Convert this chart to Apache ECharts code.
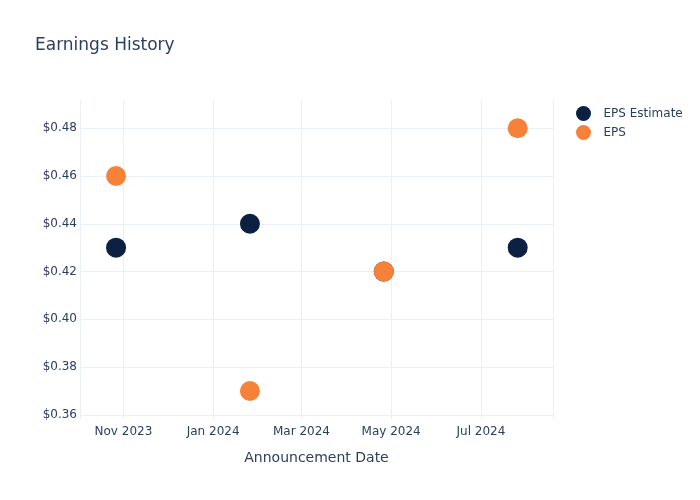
<!DOCTYPE html>
<html>
<head>
<meta charset="utf-8">
<script src="https://cdn.jsdelivr.net/npm/echarts@6/dist/echarts.min.js"></script>
<style>html,body{margin:0;padding:0;background:#fff}#c{width:700px;height:500px}</style>
</head>
<body>
<div id="c"></div>
<script>
const dates = ['2023-10-27', '2024-01-26', '2024-04-26', '2024-07-26'];
const epsEstimate = [0.43, 0.44, 0.42, 0.43];
const eps = [0.46, 0.37, 0.42, 0.48];
const monthNames = ['Jan','Feb','Mar','Apr','May','Jun','Jul','Aug','Sep','Oct','Nov','Dec'];

const chart = echarts.init(document.getElementById('c'));
const font = '"DejaVu Sans", sans-serif';
chart.setOption({
  animation: false,
  textStyle: { fontFamily: font },
  title: {
    text: 'Earnings History', left: 30, top: 32,
    textStyle: { fontFamily: font, fontSize: 17, fontWeight: 'normal', color: '#2a3f5f' }
  },
  legend: {
    orient: 'vertical', left: 571, top: 101, itemGap: 4,
    itemWidth: 30, itemHeight: 15, icon: 'circle',
    textStyle: { fontFamily: font, fontSize: 12, color: '#2a3f5f' },
    data: ['EPS Estimate', 'EPS']
  },
  grid: { left: 80, right: 147, top: 100, bottom: 81, containLabel: false },
  xAxis: {
    type: 'time',
    min: '2023-10-02T12:00:00', max: '2024-08-19',
    splitNumber: 5,
    name: 'Announcement Date', nameLocation: 'middle', nameGap: 32,
    nameTextStyle: { fontFamily: font, fontSize: 14, color: '#2a3f5f' },
    axisLine: { show: false }, axisTick: { show: false },
    axisLabel: {
      color: '#2a3f5f', fontSize: 12, fontFamily: font, margin: 7,
      showMinLabel: false, showMaxLabel: false,
      formatter: function (v) { const d = new Date(v); return monthNames[d.getMonth()] + ' ' + d.getFullYear(); }
    },
    splitLine: { show: true, lineStyle: { color: '#ebf0f8', width: 1 } }
  },
  yAxis: {
    type: 'value', min: 0.3583, max: 0.4918, splitNumber: 6,
    axisLine: { show: false }, axisTick: { show: false },
    axisLabel: {
      color: '#2a3f5f', fontSize: 12, fontFamily: font, margin: 3,
      showMinLabel: false, showMaxLabel: false,
      formatter: function (v) { return '$' + v.toFixed(2); }
    },
    splitLine: { show: true, showMinLine: false, showMaxLine: false, lineStyle: { color: '#ebf0f8', width: 1 } }
  },
  series: [
    {
      name: 'EPS Estimate', type: 'scatter', symbolSize: 20,
      itemStyle: { color: '#0c2042', opacity: 1 },
      data: dates.map((d, i) => [d, epsEstimate[i]])
    },
    {
      name: 'EPS', type: 'scatter', symbolSize: 20,
      itemStyle: { color: '#f6823a', opacity: 1 },
      data: dates.map((d, i) => [d, eps[i]])
    }
  ]
});
</script>
</body>
</html>
